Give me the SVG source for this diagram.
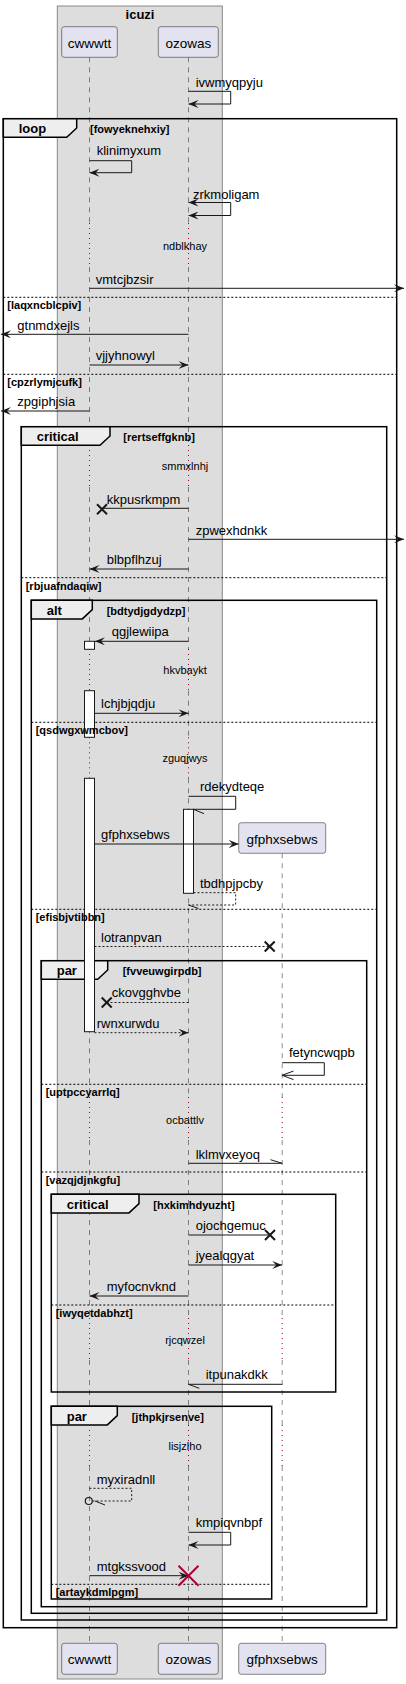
<svg xmlns="http://www.w3.org/2000/svg" width="406" height="1684" viewBox="0 0 406 1684">
<style>
text{font-family:"Liberation Sans",Arial,sans-serif;fill:#000}
.pt{font-size:13.5px;text-anchor:middle}
.msg{font-size:13px}
.dly{font-size:11px;text-anchor:middle}
.flab{font-size:13px;font-weight:bold}
.cond{font-size:11px;font-weight:bold}
.pbox{fill:#E2E2F0;stroke:#181818;stroke-width:0.5}
.ll{stroke:#181818;stroke-width:0.5;stroke-dasharray:5,5;fill:none}
.dl{stroke:#A80036;stroke-width:1;stroke-dasharray:1,4;fill:none}
.frame{fill:none;stroke:#000;stroke-width:1.5}
.tab{fill:#EEEEEE;stroke:#000;stroke-width:1.5}
.sep{stroke:#000;stroke-width:1;stroke-dasharray:2,2}
.act{fill:#fff;stroke:#181818;stroke-width:1}
.m{fill:none;stroke:#181818;stroke-width:1}
.md{fill:none;stroke:#181818;stroke-width:1;stroke-dasharray:2,2}
.fa{marker-end:url(#ah)}
.x{stroke:#181818;stroke-width:2;fill:none}
</style>
<defs>
<marker id="ah" viewBox="0 0 10 8" refX="10" refY="4" markerWidth="10" markerHeight="8" markerUnits="userSpaceOnUse" orient="auto-start-reverse">
<path d="M0,0 L10,4 L0,8 L4,4 Z" fill="#181818"/>
</marker>
</defs>

<g id="box-icuzi">
<rect x="57.3" y="6" width="165" height="1673" fill="#DDDDDD" stroke="#888" stroke-width="1"/>
<text x="140" y="18.5" class="flab" text-anchor="middle">icuzi</text>
</g>

<g id="lifelines">
<path class="ll" d="M89.5,57.3V223M89.5,267V445M89.5,487V649M89.5,690.7V737.3M89.5,778.3V1097M89.5,1140V1318M89.5,1360V1425M89.5,1466V1643.3"/>
<path class="dl" d="M89.5,223V267M89.5,445V487M89.5,649V690.7M89.5,737.3V778.3M89.5,1097V1140M89.5,1318V1360M89.5,1425V1466"/>
<path class="ll" d="M188.5,57.3V223M188.5,267V445M188.5,487V649M188.5,690.7V737.3M188.5,778.3V1097M188.5,1140V1318M188.5,1360V1425M188.5,1466V1643.3"/>
<path class="dl" d="M188.5,223V267M188.5,445V487M188.5,649V690.7M188.5,737.3V778.3M188.5,1097V1140M188.5,1318V1360M188.5,1425V1466"/>
<path class="ll" d="M282.2,853.3V1097M282.2,1140V1318M282.2,1360V1425M282.2,1466V1643.3"/>
<path class="dl" d="M282.2,1097V1140M282.2,1318V1360M282.2,1425V1466"/>
</g>

<g id="frame-loop">
<rect class="frame" x="3.3" y="118.7" width="393.4" height="1509"/>
<polygon class="tab" points="3.3,118.7 76.7,118.7 76.7,128 66.7,137.3 3.3,137.3"/>
<line class="sep" x1="3.3" y1="297.3" x2="396.7" y2="297.3"/>
<line class="sep" x1="3.3" y1="374.3" x2="396.7" y2="374.3"/>
</g>

<g id="frame-critical-1">
<rect class="frame" x="21.3" y="426.7" width="365.4" height="1193.3"/>
<polygon class="tab" points="21.3,426.7 110,426.7 110,436 100,445.3 21.3,445.3"/>
<line class="sep" x1="21.3" y1="577.7" x2="386.7" y2="577.7"/>
</g>

<g id="frame-alt">
<rect class="frame" x="31.3" y="600.3" width="345.4" height="1013"/>
<polygon class="tab" points="31.3,600.3 92.3,600.3 92.3,609.6 82.3,618.9 31.3,618.9"/>
<line class="sep" x1="31.3" y1="722.3" x2="376.7" y2="722.3"/>
<line class="sep" x1="31.3" y1="909.3" x2="376.7" y2="909.3"/>
</g>

<g id="frame-par-1">
<rect class="frame" x="41.3" y="960.7" width="325.4" height="646"/>
<polygon class="tab" points="41.3,960.7 107.7,960.7 107.7,970 97.7,979.3 41.3,979.3"/>
<line class="sep" x1="41.3" y1="1084.3" x2="366.7" y2="1084.3"/>
<line class="sep" x1="41.3" y1="1172" x2="366.7" y2="1172"/>
</g>

<g id="frame-critical-2">
<rect class="frame" x="51.3" y="1194.3" width="284.4" height="197.7"/>
<polygon class="tab" points="51.3,1194.3 139,1194.3 139,1203.6 129,1212.9 51.3,1212.9"/>
<line class="sep" x1="51.3" y1="1305" x2="335.7" y2="1305"/>
</g>

<g id="frame-par-2">
<rect class="frame" x="51.3" y="1406.3" width="220.4" height="192.7"/>
<polygon class="tab" points="51.3,1406.3 117.3,1406.3 117.3,1415.6 107.3,1424.9 51.3,1424.9"/>
<line class="sep" x1="51.3" y1="1584.3" x2="271.7" y2="1584.3"/>
</g>

<g id="activations">
<rect class="act" x="84.5" y="641.3" width="10" height="8"/>
<rect class="act" x="84.5" y="690.7" width="10" height="46.6"/>
<rect class="act" x="84.5" y="778.3" width="10" height="253.4"/>
<rect class="act" x="183.5" y="809.3" width="10" height="84"/>
</g>

<g id="frame-labels">
<text x="18.7" y="133.2" class="flab">loop</text>
<text x="90" y="133" class="cond">[fowyeknehxiy]</text>
<text x="7.3" y="309.3" class="cond">[laqxncblcpiv]</text>
<text x="7.3" y="386" class="cond">[cpzrlymjcufk]</text>
<text x="36.7" y="441.2" class="flab">critical</text>
<text x="123.3" y="441" class="cond">[rertseffgknb]</text>
<text x="25.7" y="590" class="cond">[rbjuafndaqiw]</text>
<text x="46.7" y="614.8" class="flab">alt</text>
<text x="106.7" y="614.6" class="cond">[bdtydjgdydzp]</text>
<text x="35.7" y="734" class="cond">[qsdwgxwmcbov]</text>
<text x="35.7" y="921" class="cond">[efisbjvtibbn]</text>
<text x="56.7" y="975.4" class="flab">par</text>
<text x="122.7" y="975.2" class="cond">[fvveuwgirpdb]</text>
<text x="45.7" y="1096" class="cond">[uptpccyarrlq]</text>
<text x="45.7" y="1183.7" class="cond">[vazqjdjnkgfu]</text>
<text x="66.7" y="1208.8" class="flab">critical</text>
<text x="153.3" y="1208.6" class="cond">[hxkimhdyuzht]</text>
<text x="55.7" y="1316.7" class="cond">[iwyqetdabhzt]</text>
<text x="66.7" y="1420.8" class="flab">par</text>
<text x="131.7" y="1420.6" class="cond">[jthpkjrsenve]</text>
<text x="55.7" y="1596" class="cond">[artaykdmlpgm]</text>
</g>

<g id="delays">
<text x="185" y="249.5" class="dly">ndblkhay</text>
<text x="185" y="470" class="dly">smmxlnhj</text>
<text x="185" y="673.5" class="dly">hkvbaykt</text>
<text x="185" y="762" class="dly">zguqjwys</text>
<text x="185" y="1124" class="dly">ocbattlv</text>
<text x="185" y="1344" class="dly">rjcqwzel</text>
<text x="185" y="1449.5" class="dly">lisjzlho</text>
</g>

<g id="connectors">
<path class="m fa" d="M188.5,91.3H230.7V104H188.5"/>
<text x="195.7" y="87" class="msg">ivwmyqpyju</text>

<path class="m fa" d="M89.5,160.7H131.7V172.7H89.5"/>
<text x="96.7" y="155" class="msg">klinimyxum</text>

<path class="m fa" style="marker-start:url(#ah)" d="M188.5,202.5H230.7V215.5H188.5"/>
<text x="193" y="198.5" class="msg">zrkmoligam</text>

<line class="m fa" x1="89.5" y1="288.3" x2="404" y2="288.3"/>
<text x="95.7" y="284" class="msg">vmtcjbzsir</text>

<line class="m fa" x1="188.5" y1="334.3" x2="1" y2="334.3"/>
<text x="17.3" y="329.5" class="msg">gtnmdxejls</text>

<line class="m fa" x1="89.5" y1="365" x2="188.5" y2="365"/>
<text x="95.7" y="360" class="msg">vjjyhnowyl</text>

<line class="m fa" x1="89.5" y1="411" x2="1" y2="411"/>
<text x="17.3" y="406" class="msg">zpgiphjsia</text>

<line class="m" x1="188.5" y1="508.3" x2="102" y2="508.3"/>
<path class="x" d="M97,504.3L107,514.3M107,504.3L97,514.3"/>
<text x="106.7" y="503.5" class="msg">kkpusrkmpm</text>

<line class="m fa" x1="188.5" y1="539.3" x2="404" y2="539.3"/>
<text x="195.7" y="534.5" class="msg">zpwexhdnkk</text>

<line class="m fa" x1="188.5" y1="569" x2="89.5" y2="569"/>
<text x="106.7" y="564" class="msg">blbpflhzuj</text>

<line class="m fa" x1="188.5" y1="641.3" x2="95" y2="641.3"/>
<text x="111.7" y="636" class="msg">qgjlewiipa</text>

<line class="m fa" x1="94.5" y1="713.3" x2="188.5" y2="713.3"/>
<text x="101" y="708" class="msg">lchjbjqdju</text>

<path class="m" d="M188.5,796.3H235.7V809.3H193.5M193.5,809.3L204,813.7"/>
<text x="200" y="790.5" class="msg">rdekydteqe</text>

<line class="m fa" x1="94.5" y1="844" x2="238.7" y2="844"/>
<text x="101" y="839" class="msg">gfphxsebws</text>

<path class="md" d="M193.5,892.7H235.7V905H188.5"/>
<line class="m" x1="188.5" y1="905" x2="198.5" y2="908.5"/>
<text x="200" y="887.5" class="msg">tbdhpjpcby</text>

<line class="md" x1="94.5" y1="946.5" x2="269.7" y2="946.5"/>
<path class="x" d="M264.7,941.5L274.7,951.5M274.7,941.5L264.7,951.5"/>
<text x="101" y="941.5" class="msg">lotranpvan</text>

<line class="md" x1="188.5" y1="1002.5" x2="106.7" y2="1002.5"/>
<path class="x" d="M101.7,997.5L111.7,1007.5M111.7,997.5L101.7,1007.5"/>
<text x="111.7" y="997" class="msg">ckovgghvbe</text>

<line class="md fa" x1="94.5" y1="1032.7" x2="188.5" y2="1032.7"/>
<text x="96.7" y="1027.5" class="msg">rwnxurwdu</text>

<path class="m" d="M282.2,1062.7H324.3V1075.3H282.2M293.5,1071L282.2,1075.3L293.5,1079.6"/>
<text x="289" y="1057" class="msg">fetyncwqpb</text>

<path class="m" d="M188.5,1163.3H282.2L270.5,1159.7"/>
<text x="195.7" y="1159" class="msg">lklmvxeyoq</text>

<line class="m" x1="188.5" y1="1235" x2="270" y2="1235"/>
<path class="x" d="M265,1230L275,1240M275,1230L265,1240"/>
<text x="195.7" y="1230" class="msg">ojochgemuc</text>

<line class="m fa" x1="188.5" y1="1265" x2="282.2" y2="1265"/>
<text x="195.7" y="1260" class="msg">jyealqgyat</text>

<line class="m fa" x1="188.5" y1="1296" x2="89.5" y2="1296"/>
<text x="106.7" y="1291" class="msg">myfocnvknd</text>

<path class="m" d="M282.2,1384.3H188.5L199.3,1388.3"/>
<text x="205.7" y="1379" class="msg">itpunakdkk</text>

<path class="md" d="M89.5,1488.3H131.7V1501H92.5"/>
<circle cx="88.8" cy="1501" r="3.5" fill="none" stroke="#181818" stroke-width="1.2"/>
<line class="m" x1="95" y1="1501" x2="105" y2="1505"/>
<text x="96.7" y="1483.5" class="msg">myxiradnll</text>

<path class="m fa" d="M188.5,1532.3H230.7V1545H188.5"/>
<text x="195.7" y="1527" class="msg">kmpiqvnbpf</text>

<line class="m fa" x1="89.5" y1="1575.7" x2="188.5" y2="1575.7"/>
<path d="M178.5,1565.7L198.5,1585.7M198.5,1565.7L178.5,1585.7" stroke="#A80036" stroke-width="2" fill="none"/>
<text x="96.7" y="1570.5" class="msg">mtgkssvood</text>
</g>

<g id="p-cwwwtt">
<rect class="pbox" x="61.7" y="26.7" width="55.6" height="30.6" rx="2.5"/>
<text x="89.5" y="47.5" class="pt">cwwwtt</text>
<rect class="pbox" x="61.7" y="1643.3" width="55.6" height="31" rx="2.5"/>
<text x="89.5" y="1664.3" class="pt">cwwwtt</text>
</g>
<g id="p-ozowas">
<rect class="pbox" x="158.3" y="26.7" width="60" height="30.6" rx="2.5"/>
<text x="188.3" y="47.5" class="pt">ozowas</text>
<rect class="pbox" x="158.3" y="1643.3" width="60" height="31" rx="2.5"/>
<text x="188.3" y="1664.3" class="pt">ozowas</text>
</g>
<g id="p-gfphxsebws">
<rect class="pbox" x="238.7" y="822.7" width="87" height="30.6" rx="2.5"/>
<text x="282.2" y="843.5" class="pt">gfphxsebws</text>
<rect class="pbox" x="238.7" y="1643.3" width="87" height="31" rx="2.5"/>
<text x="282.2" y="1664.3" class="pt">gfphxsebws</text>
</g>
</svg>
